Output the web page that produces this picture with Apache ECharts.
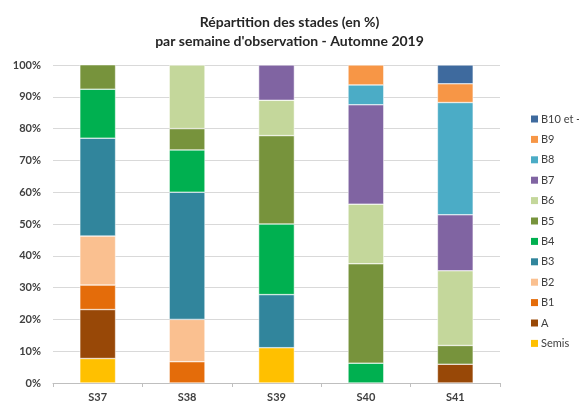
<!DOCTYPE html>
<html>
<head>
<meta charset="utf-8">
<script src="https://cdn.jsdelivr.net/npm/echarts@6/dist/echarts.min.js"></script>
<style>
  html, body { margin: 0; padding: 0; background: #fff; }
  #chart { width: 579px; height: 403px; }
</style>
</head>
<body>
<div id="chart"></div>
<script>
// semaines d'observation
var semaines = ['S37', 'S38', 'S39', 'S40', 'S41']

// part de chaque stade (en %)
var semis = [7.7, null, 11.1, null, null]
var stadeA = [15.4, null, null, null, 5.9]
var b1 = [7.7, 6.7, null, null, null]
var b2 = [15.4, 13.3, null, null, null]
var b3 = [30.8, 40, 16.7, null, null]
var b4 = [15.4, 13.3, 22.2, 6.25, null]
var b5 = [7.7, 6.7, 27.8, 31.25, 5.9]
var b6 = [null, 20, 11.1, 18.75, 23.5]
var b7 = [null, null, 11.1, 31.25, 17.6]
var b8 = [null, null, null, 6.25, 35.3]
var b9 = [null, null, null, 6.25, 5.9]
var b10 = [null, null, null, null, 5.9]

var stades = ['Semis', 'A', 'B1', 'B2', 'B3', 'B4', 'B5', 'B6', 'B7', 'B8', 'B9', 'B10 et +']
var valeurs = [semis, stadeA, b1, b2, b3, b4, b5, b6, b7, b8, b9, b10]
var couleurs = ['#FFC000', '#984807', '#E46C0A', '#FAC090', '#31859C', '#00B050',
  '#77933C', '#C4D79B', '#8064A2', '#4BACC6', '#F79646', '#3E6A9E']

var police = 'Lato, "Open Sans", sans-serif'

var series = []
for (var i = 0; i < stades.length; i++) {
  series.push({
    name: stades[i],
    type: 'bar',
    stack: 'total',
    barWidth: '40%',
    data: valeurs[i],
    itemStyle: { color: couleurs[i], borderColor: '#ffffff', borderWidth: 0.5 }
  })
}

var chart = echarts.init(document.getElementById('chart'))
chart.setOption({
  animation: false,
  title: {
    text: 'Répartition des stades (en %)\npar semaine d\'observation - Automne 2019',
    left: 'center',
    top: 8,
    textStyle: { fontFamily: police, fontSize: 14, fontWeight: 'bold', color: '#262626', lineHeight: 19 }
  },
  legend: {
    orient: 'vertical',
    left: 526,
    top: 108,
    itemWidth: 7,
    itemHeight: 7,
    itemGap: 8.4,
    icon: 'rect',
    data: stades.slice().reverse(),
    itemStyle: { borderWidth: 0 },
    textStyle: { fontFamily: police, fontSize: 11, color: '#404040', lineHeight: 12, padding: [0, 0, 0, -2] }
  },
  grid: { left: 53, right: 79, top: 65, bottom: 20 },
  xAxis: {
    type: 'category',
    data: semaines,
    axisLine: { lineStyle: { color: '#bfbfbf' } },
    axisTick: { show: true, length: 4, lineStyle: { color: '#bfbfbf' } },
    axisLabel: { fontFamily: police, fontSize: 11, fontWeight: 'bold', color: '#404040', margin: 9 }
  },
  yAxis: {
    type: 'value',
    min: 0,
    max: 100,
    interval: 10,
    axisLine: { show: false },
    axisTick: { show: false },
    axisLabel: { formatter: '{value}%', fontFamily: police, fontSize: 11, fontWeight: 'bold', color: '#404040', margin: 12 },
    splitLine: { lineStyle: { color: '#d9d9d9' } }
  },
  series: series
})
</script>
</body>
</html>
